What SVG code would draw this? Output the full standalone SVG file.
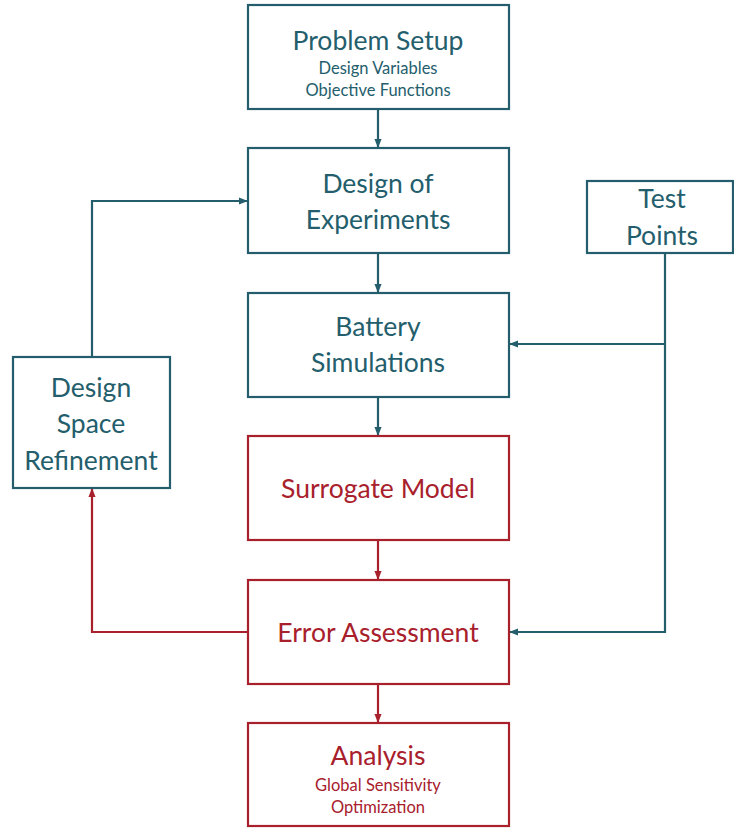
<svg xmlns="http://www.w3.org/2000/svg" width="734" height="828" viewBox="0 0 734 828">
<style>
.t{fill:none;stroke:#245e6c;stroke-width:2.2}
.r{fill:none;stroke:#a8202c;stroke-width:2.2}
text{font-family:Lato,"Noto Sans",sans-serif;text-anchor:middle}
.tt{fill:#245e6c}
.rt{fill:#a8202c}
.big{font-size:26.5px}
.sm{font-size:16.5px}
</style>
<defs>
<marker id="at" viewBox="0 0 10 10" refX="9" refY="5" markerWidth="9" markerHeight="9" markerUnits="userSpaceOnUse" orient="auto"><path d="M0,1 L10,5 L0,9 Z" fill="#245e6c"/></marker>
<marker id="ar" viewBox="0 0 10 10" refX="9" refY="5" markerWidth="9" markerHeight="9" markerUnits="userSpaceOnUse" orient="auto"><path d="M0,1 L10,5 L0,9 Z" fill="#a8202c"/></marker>
</defs>
<g id="connectors">
<path class="t" d="M378,109 V147" marker-end="url(#at)"/>
<path class="t" d="M378,253 V292" marker-end="url(#at)"/>
<path class="t" d="M378,397 V435" marker-end="url(#at)"/>
<path class="r" d="M378,540 V579" marker-end="url(#ar)"/>
<path class="r" d="M378,684 V722" marker-end="url(#ar)"/>
<path class="t" d="M665,253 V632 H510" marker-end="url(#at)"/>
<path class="t" d="M665,344 H510" marker-end="url(#at)"/>
<path class="t" d="M92,357 V201 H247" marker-end="url(#at)"/>
<path class="r" d="M248,632 H92 V489" marker-end="url(#ar)"/>
</g>
<g id="problem-setup">
<rect class="t" x="248" y="5" width="261" height="104"/>
<text class="tt big" x="378" y="50">Problem Setup</text>
<text class="tt sm" x="378" y="74">Design Variables</text>
<text class="tt sm" x="378" y="96">Objective Functions</text>
</g>
<g id="design-of-experiments">
<rect class="t" x="248" y="148" width="261" height="105"/>
<text class="tt big" x="378" y="193">Design of</text>
<text class="tt big" x="378" y="229">Experiments</text>
</g>
<g id="battery-simulations">
<rect class="t" x="248" y="293" width="261" height="104"/>
<text class="tt big" x="378" y="336">Battery</text>
<text class="tt big" x="378" y="372">Simulations</text>
</g>
<g id="surrogate-model">
<rect class="r" x="248" y="436" width="261" height="104"/>
<text class="rt big" x="378" y="498">Surrogate Model</text>
</g>
<g id="error-assessment">
<rect class="r" x="248" y="580" width="261" height="104"/>
<text class="rt big" x="378" y="642">Error Assessment</text>
</g>
<g id="analysis">
<rect class="r" x="248" y="723" width="261" height="103"/>
<text class="rt big" x="378" y="765">Analysis</text>
<text class="rt sm" x="378" y="791">Global Sensitivity</text>
<text class="rt sm" x="378" y="813">Optimization</text>
</g>
<g id="design-space-refinement">
<rect class="t" x="13" y="357" width="157" height="131"/>
<text class="tt big" x="91" y="397">Design</text>
<text class="tt big" x="91" y="433">Space</text>
<text class="tt big" x="91" y="470">Refinement</text>
</g>
<g id="test-points">
<rect class="t" x="587" y="181" width="146" height="72"/>
<text class="tt big" x="662" y="208">Test</text>
<text class="tt big" x="662" y="245">Points</text>
</g>
</svg>
